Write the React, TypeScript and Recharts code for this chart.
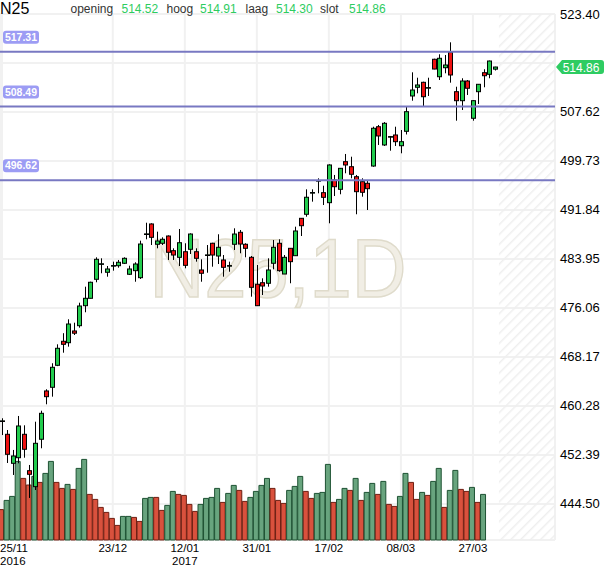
import React from 'react';
import {
  ComposedChart, Bar, Cell, XAxis, YAxis, CartesianGrid, ReferenceLine, ReferenceArea,
} from 'recharts';

// trading days shown on the chart
const dates = [
  '25/11/2016', '28/11/2016', '29/11/2016', '30/11/2016',
  '01/12/2016', '02/12/2016', '05/12/2016', '06/12/2016', '07/12/2016', '08/12/2016', '09/12/2016',
  '12/12/2016', '13/12/2016', '14/12/2016', '15/12/2016', '16/12/2016', '19/12/2016', '20/12/2016',
  '21/12/2016', '22/12/2016', '23/12/2016', '27/12/2016', '28/12/2016', '29/12/2016', '30/12/2016',
  '02/01/2017', '03/01/2017', '04/01/2017', '05/01/2017', '06/01/2017', '09/01/2017', '10/01/2017',
  '11/01/2017', '12/01/2017', '13/01/2017', '16/01/2017', '17/01/2017', '18/01/2017', '19/01/2017',
  '20/01/2017', '23/01/2017', '24/01/2017', '25/01/2017', '26/01/2017', '27/01/2017', '30/01/2017',
  '31/01/2017', '01/02/2017', '02/02/2017', '03/02/2017', '06/02/2017', '07/02/2017', '08/02/2017',
  '09/02/2017', '10/02/2017', '13/02/2017', '14/02/2017', '15/02/2017', '16/02/2017', '17/02/2017',
  '20/02/2017', '21/02/2017', '22/02/2017', '23/02/2017', '24/02/2017', '27/02/2017', '28/02/2017',
  '01/03/2017', '02/03/2017', '03/03/2017', '06/03/2017', '07/03/2017', '08/03/2017', '09/03/2017',
  '10/03/2017', '13/03/2017', '14/03/2017', '15/03/2017', '16/03/2017', '17/03/2017', '20/03/2017',
  '21/03/2017', '22/03/2017', '23/03/2017', '24/03/2017', '27/03/2017', '28/03/2017', '29/03/2017',
  '30/03/2017', '31/03/2017',
];

const opens = [
  457.85, 455.72, 451.05, 451.95, 455.72, 449.86, 447.29, 454.92, 462.70, 463.29,
  466.83, 470.70, 470.47, 472.36, 473.21, 476.43, 477.62, 480.68, 483.10, 481.81,
  482.85, 482.87, 483.26, 481.49, 482.07, 480.94, 487.95, 489.59, 486.32, 486.48,
  487.65, 485.29, 484.22, 485.12, 485.51, 485.12, 482.18, 484.57, 486.48, 484.43,
  483.79, 482.85, 486.32, 488.25, 486.32, 484.22, 479.88, 480.13, 480.04, 483.26,
  486.48, 481.53, 485.67, 484.48, 490.50, 491.15, 494.61, 496.54, 494.63, 493.02,
  496.67, 495.17, 499.62, 498.81, 497.20, 496.40, 496.14, 498.92, 505.25, 502.31,
  503.62, 503.92, 502.19, 504.51, 510.20, 511.60, 512.40, 511.51, 516.11, 513.30,
  514.75, 517.23, 510.89, 509.44, 512.61, 506.61, 510.89, 513.95, 513.69, 514.52,
];
const highs = [
  458.30, 456.41, 453.20, 458.67, 457.17, 450.78, 457.75, 459.52, 462.97, 467.16,
  470.21, 472.00, 474.24, 473.69, 476.91, 479.49, 480.30, 484.22, 484.06, 482.82,
  483.52, 483.79, 484.22, 482.87, 483.42, 486.90, 489.79, 489.70, 488.35, 487.44,
  487.75, 485.67, 488.78, 486.48, 488.08, 485.67, 483.90, 486.20, 486.57, 487.93,
  484.59, 483.52, 488.89, 488.62, 486.48, 484.43, 482.98, 480.84, 484.06, 487.01,
  487.12, 484.59, 485.70, 489.15, 490.55, 495.17, 495.17, 496.94, 495.75, 499.20,
  497.48, 498.60, 500.86, 500.42, 497.48, 496.94, 496.56, 505.25, 505.53, 506.00,
  503.76, 505.25, 504.72, 508.47, 514.01, 513.14, 512.50, 513.14, 516.20, 516.91,
  516.80, 518.84, 511.69, 513.05, 512.77, 509.50, 512.10, 514.50, 515.90, 514.91,
];
const lows = [
  455.60, 451.10, 449.17, 451.05, 451.95, 445.47, 446.75, 453.47, 460.55, 461.78,
  466.70, 468.86, 469.83, 471.71, 472.89, 475.37, 477.60, 480.20, 481.65, 481.10,
  482.07, 482.55, 483.14, 481.37, 480.29, 480.73, 487.12, 486.20, 485.67, 486.20,
  483.79, 483.79, 482.82, 482.45, 484.75, 483.52, 480.29, 481.74, 482.71, 483.14,
  481.10, 481.90, 485.40, 484.87, 484.22, 477.88, 476.40, 478.15, 479.49, 482.29,
  481.90, 481.53, 480.04, 484.43, 487.65, 490.76, 493.18, 494.53, 492.64, 489.70,
  494.09, 494.37, 497.75, 496.94, 491.15, 493.98, 491.84, 498.80, 502.31, 502.15,
  501.39, 502.15, 500.97, 504.00, 509.44, 510.63, 508.59, 510.20, 514.50, 512.77,
  513.85, 512.34, 506.22, 507.94, 510.36, 506.22, 508.91, 511.60, 513.05, 514.30,
];
const closes = [
  457.88, 452.50, 452.23, 457.06, 453.31, 449.28, 454.27, 459.10, 461.78, 466.51,
  469.57, 470.21, 473.48, 472.00, 476.38, 477.62, 480.20, 483.90, 483.18, 482.34,
  482.89, 483.42, 484.06, 482.34, 483.14, 486.36, 487.99, 487.44, 486.85, 487.12,
  485.03, 484.59, 486.57, 482.93, 487.97, 484.06, 481.65, 484.61, 484.59, 485.83,
  482.61, 482.89, 487.97, 486.36, 485.67, 479.39, 476.43, 479.60, 482.18, 485.83,
  482.07, 484.22, 483.52, 488.46, 489.31, 493.89, 494.65, 496.58, 493.88, 499.09,
  495.59, 498.55, 499.09, 497.59, 494.79, 494.69, 495.27, 505.00, 503.76, 505.80,
  503.66, 502.84, 502.84, 507.67, 511.16, 511.97, 510.08, 511.55, 514.54, 516.27,
  515.19, 513.58, 509.44, 512.61, 511.44, 509.44, 512.08, 513.46, 515.83, 514.86,
];

// volume (last two sessions have no bar yet)
const volumes = [
  15.2, 19.8, 21.8, 39.3, 30.8, 27.5, 31.8, 28.8, 33.3, 39.3,
  28.8, 25.8, 27.8, 25.3, 35.8, 40.3, 22.8, 20.3, 16.3, 13.8,
  10.8, 7.3, 11.8, 11.8, 11.3, 9.3, 20.8, 21.3, 21.3, 14.8,
  17.3, 24.3, 22.8, 22.3, 17.8, 14.3, 17.8, 20.8, 21.3, 25.8,
  18.8, 23.3, 27.3, 24.8, 19.3, 21.3, 24.3, 27.3, 30.8, 25.8,
  19.8, 18.3, 24.8, 26.8, 31.8, 24.3, 20.8, 23.3, 23.8, 37.8,
  18.8, 20.3, 25.8, 24.8, 30.8, 19.8, 23.8, 28.3, 22.8, 29.3,
  17.8, 16.8, 21.8, 33.3, 28.8, 20.3, 23.8, 22.3, 29.3, 35.8,
  16.3, 24.8, 34.8, 25.3, 24.3, 26.3, 18.8, 22.8,
];
const volumeColors =
  'RGGGRRGRGG' + 'RRGRGGRRRR' + 'RRGGRRGGRR' + 'GGRRRRGGGG' + 'RGGRRGGGGR' +
  'RRGGGRRGGG' + 'RGGRGRGGRG' + 'RRGGRRGRGG' + 'RGGRRGRG';

const priceTicks = [444.5, 452.39, 460.28, 468.17, 476.06, 483.95, 491.84, 499.73, 507.62, 515.51, 523.4];
const hiddenTick = 515.51;
const dateTicks = [0, 20, 33, 46, 59, 72, 85];
const levels = [517.31, 508.49, 496.62];

const X_MIN = -0.36;
const X_MAX = 99.82;
const HATCH_FROM = 89.7;

const UP = '#22cc4e';
const DOWN = '#ee1111';
const NARROW = "'Liberation Sans Narrow', 'Arial Narrow', 'Liberation Sans', Arial, sans-serif";
const SANS = "'Liberation Sans', Arial, sans-serif";

const data = dates.map((date, i) => ({
  i,
  date,
  open: opens[i],
  high: highs[i],
  low: lows[i],
  close: closes[i],
  range: [lows[i], highs[i]],
  volume: i < volumes.length ? volumes[i] : null,
  volUp: volumeColors[i] === 'G',
}));

function Candle(props: any) {
  const { x, y, width, height, payload } = props;
  if (!payload || payload.open == null) return null;
  const { open, close, high, low } = payload;
  const k = high > low ? height / (high - low) : 0;
  const top = y + (high - Math.max(open, close)) * k;
  const bodyH = Math.max(Math.abs(close - open) * k, 0.6);
  const cx = Math.round(x + width / 2) + 0.5;
  return (
    <g>
      <line x1={cx} x2={cx} y1={y} y2={y + height} stroke="#000" strokeWidth={1} />
      <rect x={cx - 2} y={top} width={4} height={bodyH} fill={close >= open ? UP : DOWN} stroke="#000" strokeWidth={1} />
    </g>
  );
}

function PriceTick(props: any) {
  const { x, y, payload } = props;
  if (payload.value === hiddenTick) return null;
  return (
    <text x={x} y={y} dy={4.5} fontSize={13} fontFamily={NARROW} fill="#000" textAnchor="start">
      {payload.value.toFixed(2)}
    </text>
  );
}

function DateTick(props: any) {
  const { x, y, payload, index } = props;
  const [dd, mm, yyyy] = dates[payload.value].split('/');
  const prev = index > 0 ? dates[dateTicks[index - 1]].split('/')[2] : '';
  const first = payload.value === 0;
  const tx = first ? 0 : x;
  return (
    <g>
      <text x={tx} y={y + 11.5} fontSize={11.5} fontFamily={NARROW} fill="#000" textAnchor={first ? 'start' : 'middle'}>
        {dd}/{mm}
      </text>
      {yyyy !== prev && (
        <text x={tx} y={y + 24.5} fontSize={11.5} fontFamily={NARROW} fill="#000" textAnchor={first ? 'start' : 'middle'}>
          {yyyy}
        </text>
      )}
    </g>
  );
}

function LevelLabel(props: any) {
  const { viewBox, value } = props;
  if (!viewBox) return null;
  const y = viewBox.y;
  return (
    <g>
      <rect x={3} y={y - 21} width={36} height={13} rx={3} fill="#9c9cf4" />
      <text x={21} y={y - 11} textAnchor="middle" fontSize={10.5} fontWeight="bold" fontFamily={SANS} fill="#fff">
        {value.toFixed(2)}
      </text>
    </g>
  );
}

function LastBadge(props: any) {
  const { viewBox, value } = props;
  if (!viewBox) return null;
  const x = viewBox.x + viewBox.width;
  const y = viewBox.y;
  return (
    <g>
      <path
        d={`M${x + 1},${y} L${x + 7},${y - 7} L${x + 46},${y - 7} Q${x + 49},${y - 7} ${x + 49},${y - 4} L${x + 49},${y + 4} Q${x + 49},${y + 7} ${x + 46},${y + 7} L${x + 7},${y + 7} Z`}
        fill="#2ecc62"
      />
      <text x={x + 26} y={y + 4.5} textAnchor="middle" fontSize={12} fontFamily={SANS} fill="#fff">
        {value.toFixed(2)}
      </text>
    </g>
  );
}

function Header() {
  const last = data[data.length - 1];
  const items = [
    { label: 'opening', value: last.open, lx: 70.5, vx: 121.5 },
    { label: 'hoog', value: last.high, lx: 166.5, vx: 200 },
    { label: 'laag', value: last.low, lx: 245.5, vx: 276 },
    { label: 'slot', value: last.close, lx: 320, vx: 349 },
  ];
  return (
    <svg width={610} height={20} style={{ position: 'absolute', left: 0, top: 0 }}>
      <text x={0} y={13.5} fontSize={16} fontFamily={SANS} fill="#000">N25</text>
      {items.map((it) => (
        <g key={it.label}>
          <text x={it.lx} y={12.5} fontSize={12} fontFamily={SANS} fill="#333">{it.label}</text>
          <text x={it.vx} y={12.5} fontSize={12} fontFamily={SANS} fill="#2ecc5f">{it.value.toFixed(2)}</text>
        </g>
      ))}
    </svg>
  );
}

export default function App() {
  const last = data[data.length - 1];
  return (
    <div style={{ position: 'absolute', left: 0, top: 0, width: 610, height: 568, background: '#fff' }}>
      <ComposedChart width={610} height={568} data={data} margin={{ top: 14, right: 0, bottom: 0, left: 0 }}>
        <defs>
          <pattern id="hatch" width={7} height={7} patternUnits="userSpaceOnUse" patternTransform="rotate(45)">
            <line x1={0} y1={0} x2={0} y2={7} stroke="#efefef" strokeWidth={3} />
          </pattern>
        </defs>
        <XAxis
          xAxisId="p" dataKey="i" type="number" domain={[X_MIN, X_MAX]} allowDataOverflow
          ticks={dateTicks} interval={0} height={28} axisLine={false} tickLine={false}
          tickSize={0} tickMargin={0} tick={<DateTick />}
        />
        <XAxis xAxisId="v" dataKey="i" type="number" domain={[X_MIN + 0.12, X_MAX + 0.12]} allowDataOverflow hide />
        <YAxis
          yAxisId="price" orientation="right" type="number" domain={[438.7, 523.4]} allowDataOverflow
          ticks={priceTicks} interval={0} width={55} axisLine={false} tickLine={false}
          tickSize={3} tickMargin={2} tick={<PriceTick />}
        />
        <YAxis yAxisId="vol" type="number" domain={[0, 263]} hide />
        <CartesianGrid xAxisId="p" yAxisId="price" stroke="#f1f1f1" strokeWidth={2} />
        <text
          x={278} y={297} textAnchor="middle" fontSize={84} fontFamily={SANS}
          textLength={257} lengthAdjust="spacingAndGlyphs" fill="#f1eee5" stroke="#dfdbcb" strokeWidth={1.5}
        >
          N25,1D
        </text>
        <ReferenceArea xAxisId="p" yAxisId="price" x1={HATCH_FROM} x2={X_MAX} fill="url(#hatch)" fillOpacity={1} stroke="none" />
        <Bar xAxisId="v" yAxisId="vol" dataKey="volume" barSize={5} isAnimationActive={false}>
          {data.map((d) => (
            <Cell key={d.i} fill={d.volUp ? '#68a47e' : '#d9513d'} stroke={d.volUp ? '#1e5233' : '#6e1f12'} strokeWidth={1} />
          ))}
        </Bar>
        {levels.map((lv) => (
          <ReferenceLine
            key={lv} xAxisId="p" yAxisId="price" y={lv} stroke="#7878c2" strokeWidth={2}
            label={<LevelLabel value={lv} />}
          />
        ))}
        <Bar xAxisId="p" yAxisId="price" dataKey="range" barSize={5} shape={(p: any) => <Candle {...p} />} isAnimationActive={false} />
        <ReferenceLine xAxisId="p" yAxisId="price" y={last.close} stroke="none" label={<LastBadge value={last.close} />} />
      </ComposedChart>
      <Header />
    </div>
  );
}
